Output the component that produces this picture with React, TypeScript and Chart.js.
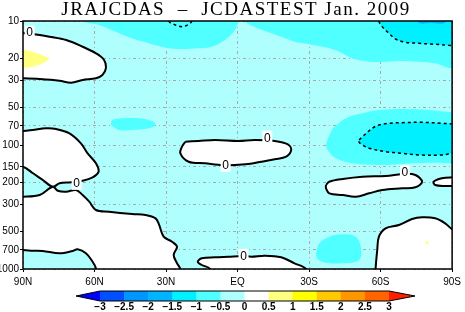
import React, { useEffect, useRef } from "react";
import { Chart, registerables } from "chart.js";
Chart.register(...registerables);

type P = [number, number]; // [latitude (N positive), pressure hPa]

const titleText = "JRAJCDAS  \u2013  JCDASTEST Jan. 2009";
const latTicks = [90, 60, 30, 0, -30, -60, -90];
const pressureTicks = [10, 20, 30, 50, 70, 100, 150, 200, 300, 500, 700, 1000];
const cbarLevels = [-3, -2.5, -2, -1.5, -1, -0.5, 0, 0.5, 1, 1.5, 2, 2.5, 3];
const cbarColors = [
  "#0000ff", "#0050ff", "#0096ff", "#00b4ff", "#00f0ff", "#50ffff", "#afffff",
  "#ffffff", "#ffff80", "#ffff00", "#ffc800", "#ff9600", "#ff6400", "#ff1e00",
];

// -1 .. -0.5 regions
const medTopLeft: P[] = [[64.3, 8], [64.3, 10], [58, 10.77], [51.1, 12.2], [44.2, 13.79], [37.2, 15.13], [28.9, 16.61], [23.3, 16.82], [16.4, 16.61], [10.8, 16.12], [5.25, 14.23], [1.1, 11.82], [-0.3, 10], [-0.5, 8]];
const medTopRight: P[] = [[-3.1, 8], [-3.1, 10], [-8.6, 11.45], [-14.2, 12.57], [-18.3, 13.39], [-23.9, 14.69], [-27.4, 15.13], [-31.6, 15.62], [-38.5, 16.61], [-42.7, 17.68], [-48.2, 20], [-55.2, 21.29], [-62.1, 21.29], [-69, 21.02], [-76, 21.29], [-82.9, 21.94], [-87.1, 23.37], [-90.2, 24.07], [-95, 24.5], [-95, 8]];
const medLeft70: P[] = [[53.2, 69], [52.5, 62.9], [48.3, 60.9], [41.4, 60.9], [35.8, 64.07], [34.4, 69], [37.2, 73.3], [44.2, 75.7], [49.7, 75.7]];
const medRight100: P[] = [[-39.9, 73.3], [-45.4, 60.9], [-52.4, 55.5], [-59.3, 52.2], [-69, 51.26], [-80.2, 52.2], [-90.2, 54.5], [-95, 54.5], [-95, 140.5], [-90.2, 140.5], [-82.9, 138.9], [-73.2, 140.5], [-62.1, 145], [-48.2, 140.5], [-41.25, 128.1], [-37.8, 109.7], [-37.1, 98.7]];
const medBottom600: P[] = [[-32.9, 747], [-34.3, 620.4], [-38.5, 549], [-44.1, 525.1], [-49.6, 549], [-51.7, 661], [-51, 846], [-44.1, 899.5], [-37.1, 890], [-33.6, 835.2]];

// -1.5 .. -1 regions (dashed -1 contour)
const brightTopRight: P[] = [[-59.3, 8], [-59.3, 10], [-60.7, 11.1], [-63.5, 12.57], [-66.25, 13.97], [-70.4, 14.85], [-76, 15.13], [-82.9, 15.41], [-90.2, 15.82], [-95, 15.9], [-95, 8]];
const brightRight100: P[] = [[-51, 91.1], [-52.4, 85.7], [-56.5, 73.3], [-59.3, 69], [-63.5, 66.8], [-69, 66.1], [-77.4, 65.6], [-85.7, 66.8], [-90.2, 67.7], [-95, 68], [-95, 116.7], [-90, 116.7], [-85.7, 120.4], [-76, 120.4], [-69, 116.7], [-62.1, 113.2], [-55.2, 106.3], [-52.4, 100], [-51, 95]];
const dashTopCenter: P[] = [[29, 8], [28.9, 10], [26.1, 10.77], [23.3, 11.1], [20.5, 10.63], [19.2, 10], [19, 8]];
// -2 .. -1.5
const blueTopRight: P[] = [[-76, 8], [-76, 10.3], [-81, 10.35], [-87, 10.3], [-87, 8]];

// 0 .. 0.5 regions (solid 0 contour)
const zeroUpperLeft: P[] = [[95, 12.5], [90, 12.57], [86, 12.73], [78.9, 13.39], [71.9, 14.23], [65, 16.12], [59.4, 18.22], [56, 20.63], [55.25, 24.07], [56.7, 27.26], [59.4, 28.98], [65, 29.91], [69.8, 31.45], [74.7, 30.3], [83, 29.36], [90, 28.98], [95, 28.9]];
const zeroMidLeft: P[] = [[95, 77], [90, 77.1], [86, 75.7], [80.25, 73.3], [76.1, 74.3], [70.5, 80.5], [65.7, 96.9], [62.9, 116.7], [59.4, 140.5], [58.3, 164.2], [60.8, 182.2], [65, 194.1], [69.8, 199.9], [74.7, 203.7], [77.5, 216.9], [81.7, 191.6], [85.8, 169], [90, 149.6], [95, 149.6]];
const zeroLowerLeft: P[] = [[95, 261.3], [90, 261.3], [83, 253.2], [77.5, 216.9], [75.4, 233.7], [71.9, 238.1], [67.75, 230.7], [65, 253.2], [62.2, 286.6], [59.4, 334.4], [53.9, 345.1], [44.2, 360.2], [38.6, 367], [34.4, 390.1], [33, 435], [31, 549], [27.5, 602.3], [25.4, 661], [26.8, 771], [25.4, 899.5], [24, 1000], [23.5, 1200], [59, 1200], [59.4, 987], [60.8, 873.5], [63.6, 747], [67.1, 693.7], [69.2, 716], [74.7, 747], [81.7, 716], [85.8, 712], [90, 703], [95, 703]];
const zeroBottomCenter: P[] = [[12, 1200], [11.5, 1000], [15, 928.5], [16.7, 873.5], [15, 819.6], [9.4, 804.6], [3.9, 796], [-2.5, 785.5], [-5.8, 796], [-11.4, 781], [-18.3, 804.6], [-23.9, 899.5], [-28.75, 1000], [-29.5, 1200]];
const zeroCenter: P[] = [[21.9, 94.1], [16.4, 92.8], [9.4, 91.1], [-0.3, 92.8], [-7.25, 91.1], [-15.6, 92.8], [-21.1, 98.7], [-22.5, 109.7], [-20.4, 124.3], [-15.6, 130.5], [-10, 136.4], [-4.5, 142.3], [1.1, 145], [6, 145], [13.6, 140.5], [20.5, 136.4], [24, 116.7], [23.3, 103.2]];
const zeroRight200: P[] = [[-37.1, 210.2], [-38.5, 197.7], [-44.1, 188], [-52.4, 180.2], [-62.1, 177.8], [-70.2, 171], [-74.6, 174.6], [-77.4, 197.7], [-74.6, 219.3], [-69, 223.5], [-60.7, 230.7], [-55.2, 245.3], [-49.6, 261.3], [-44.1, 253.2], [-38.5, 245.3], [-37.1, 223.5]];
const zeroRightEdge: P[] = [[-95, 182], [-90, 182.2], [-85.7, 185.6], [-82.25, 197.7], [-82.9, 210.2], [-87.1, 214.1], [-90, 214.1], [-95, 214]];
const zeroBottomRight: P[] = [[-57.9, 1200], [-57.9, 1000], [-58.6, 703], [-59.3, 549], [-62.1, 469.7], [-67.7, 441.8], [-73.2, 395.2], [-77.4, 382.9], [-82.9, 390.1], [-87.1, 428.1], [-90.2, 478.5], [-95, 500], [-95, 1200]];

// 0.5 .. 1 regions
const yellowUpperLeft: P[] = [[95, 17.1], [90, 17.13], [86, 17.68], [80.25, 19.41], [78.9, 20], [81.7, 21.94], [86, 23.37], [90, 23.81], [95, 23.8]];
const yellowDot: P[] = [[-79.5, 613.6]];

const zeroLabels: P[] = [[87.2, 12.4], [67.5, 202], [5, 145], [-12.5, 87.4], [-2.5, 785], [-70.2, 166]];

const LIGHT = cbarColors[6];
const MED = cbarColors[5];
const BRIGHT = cbarColors[4];
const BLUE = cbarColors[3];
const YELLOW = cbarColors[8];

const fmtLat = (v: number) => (v === 0 ? "EQ" : v > 0 ? `${v}N` : `${-v}S`);

function poly(pts: P[], fillColor: string | null, line: "none" | "solid" | "dashed") {
  const data = [...pts, pts[0]].map(([x, y]) => ({ x, y }));
  return {
    data,
    fill: fillColor ? "shape" : false,
    backgroundColor: fillColor || "rgba(0,0,0,0)",
    borderColor: line === "none" ? "rgba(0,0,0,0)" : "#000",
    borderWidth: line === "none" ? 0 : line === "dashed" ? 1.5 : 2,
    borderDash: line === "dashed" ? [3, 3] : [],
    pointRadius: 0,
    tension: 0.35,
    clip: 0,
  };
}

const decorPlugin = {
  id: "decor",
  beforeDraw(chart: any) {
    const { ctx, chartArea: a } = chart;
    ctx.save();
    ctx.fillStyle = LIGHT;
    ctx.fillRect(a.left, a.top, a.right - a.left, a.bottom - a.top);
    ctx.restore();
  },
  afterDraw(chart: any) {
    const { ctx, chartArea: a, scales } = chart;
    ctx.save();
    // contour labels
    ctx.font = "12px 'Liberation Sans'";
    ctx.textAlign = "center";
    ctx.textBaseline = "middle";
    for (const [lat, p] of zeroLabels) {
      const x = scales.x.getPixelForValue(lat);
      const y = scales.y.getPixelForValue(p);
      ctx.fillStyle = "#fff";
      ctx.fillRect(x - 5, y - 7, 10, 14);
      ctx.fillStyle = "#000";
      ctx.fillText("0", x, y + 0.5);
    }
    // frame
    ctx.strokeStyle = "#000";
    ctx.lineWidth = 1.5;
    ctx.strokeRect(a.left, a.top, a.right - a.left, a.bottom - a.top);
    // title
    ctx.font = "19px 'Liberation Serif'";
    (ctx as any).letterSpacing = "1.5px";
    ctx.textAlign = "center";
    ctx.textBaseline = "alphabetic";
    ctx.fillStyle = "#000";
    ctx.fillText(titleText, 236, 15);
    (ctx as any).letterSpacing = "0px";
    // colorbar
    const x0 = 100, x1 = 389, tipL = 76, tipR = 415, top = 291, bot = 301, mid = 296;
    const n = cbarLevels.length - 1;
    const w = (x1 - x0) / n;
    ctx.fillStyle = cbarColors[0];
    ctx.beginPath(); ctx.moveTo(tipL, mid); ctx.lineTo(x0, top); ctx.lineTo(x0, bot); ctx.closePath(); ctx.fill();
    for (let i = 0; i < n; i++) {
      ctx.fillStyle = cbarColors[i + 1];
      ctx.fillRect(x0 + i * w, top, w + 0.5, bot - top);
    }
    ctx.fillStyle = cbarColors[cbarColors.length - 1];
    ctx.beginPath(); ctx.moveTo(tipR, mid); ctx.lineTo(x1, top); ctx.lineTo(x1, bot); ctx.closePath(); ctx.fill();
    ctx.strokeStyle = "#000";
    ctx.lineWidth = 1;
    ctx.beginPath();
    ctx.moveTo(tipL, mid); ctx.lineTo(x0, top); ctx.lineTo(x1, top); ctx.lineTo(tipR, mid);
    ctx.lineTo(x1, bot); ctx.lineTo(x0, bot); ctx.closePath();
    ctx.stroke();
    ctx.font = "bold 10px 'Liberation Sans'";
    ctx.textAlign = "center";
    ctx.textBaseline = "middle";
    ctx.fillStyle = "#000";
    cbarLevels.forEach((v, i) => {
      const s = v < 0 ? "\u2212" + String(-v) : String(v);
      ctx.fillText(s, x0 + i * w, 307);
    });
    ctx.restore();
  },
};

export default function App() {
  const ref = useRef<HTMLCanvasElement>(null);
  useEffect(() => {
    document.body.style.margin = "0";
    const layers = [
      poly(medTopLeft, MED, "none"),
      poly(medTopRight, MED, "none"),
      poly(medLeft70, MED, "none"),
      poly(medRight100, MED, "none"),
      poly(medBottom600, MED, "none"),
      poly(brightTopRight, BRIGHT, "dashed"),
      poly(brightRight100, BRIGHT, "dashed"),
      poly(blueTopRight, BLUE, "none"),
      poly(dashTopCenter, null, "dashed"),
      poly(zeroUpperLeft, "#ffffff", "solid"),
      poly(zeroMidLeft, "#ffffff", "solid"),
      poly(zeroLowerLeft, "#ffffff", "solid"),
      poly(zeroBottomCenter, "#ffffff", "solid"),
      poly(zeroCenter, "#ffffff", "solid"),
      poly(zeroRight200, "#ffffff", "solid"),
      poly(zeroRightEdge, "#ffffff", "solid"),
      poly(zeroBottomRight, "#ffffff", "solid"),
      poly(yellowUpperLeft, YELLOW, "none"),
      {
        data: yellowDot.map(([x, y]) => ({ x, y })),
        showLine: false,
        pointRadius: 2,
        pointStyle: "rect",
        pointBackgroundColor: YELLOW,
        pointBorderWidth: 0,
        borderWidth: 0,
        clip: 0,
      },
    ];
    const datasets = layers.map((d, i) => ({ ...d, order: -i }));
    const gridOpts = { color: "#a8a8a8", lineWidth: 1, tickColor: "#000", tickLength: 3, drawTicks: true };
    const tickFont = { family: "'Liberation Sans'", size: 10 };
    const chart = new Chart(ref.current as HTMLCanvasElement, {
      type: "line",
      data: { datasets: datasets as any },
      plugins: [decorPlugin as any],
      options: {
        animation: false,
        responsive: false,
        devicePixelRatio: 1,
        events: [],
        layout: { padding: { top: 21, right: 9, bottom: 0, left: 0 } },
        plugins: { legend: { display: false }, tooltip: { enabled: false }, title: { display: false } },
        elements: { point: { radius: 0, hitRadius: 0 }, line: { capBezierPoints: false } },
        scales: {
          x: {
            type: "linear",
            min: -90,
            max: 90,
            reverse: true,
            z: 1,
            afterFit: (s: any) => { s.height = 43; },
            afterBuildTicks: (s: any) => { s.ticks = latTicks.map((v) => ({ value: v })); },
            ticks: { callback: (v: any) => fmtLat(Number(v)), font: tickFont, color: "#000", padding: 4, maxRotation: 0, autoSkip: false },
            grid: gridOpts,
            border: { display: false, dash: [3, 3, 1, 3] },
          },
          y: {
            type: "logarithmic",
            min: 10,
            max: 1000,
            reverse: true,
            z: 1,
            afterFit: (s: any) => { s.width = 23; },
            afterBuildTicks: (s: any) => { s.ticks = pressureTicks.map((v) => ({ value: v })); },
            ticks: { callback: (v: any) => String(v), font: tickFont, color: "#000", padding: 1, autoSkip: false },
            grid: gridOpts,
            border: { display: false, dash: [3, 3, 1, 3] },
          },
        },
      } as any,
    });
    return () => chart.destroy();
  }, []);
  return (
    <div style={{ width: 465, height: 312 }}>
      <canvas ref={ref} width={465} height={312} />
    </div>
  );
}
